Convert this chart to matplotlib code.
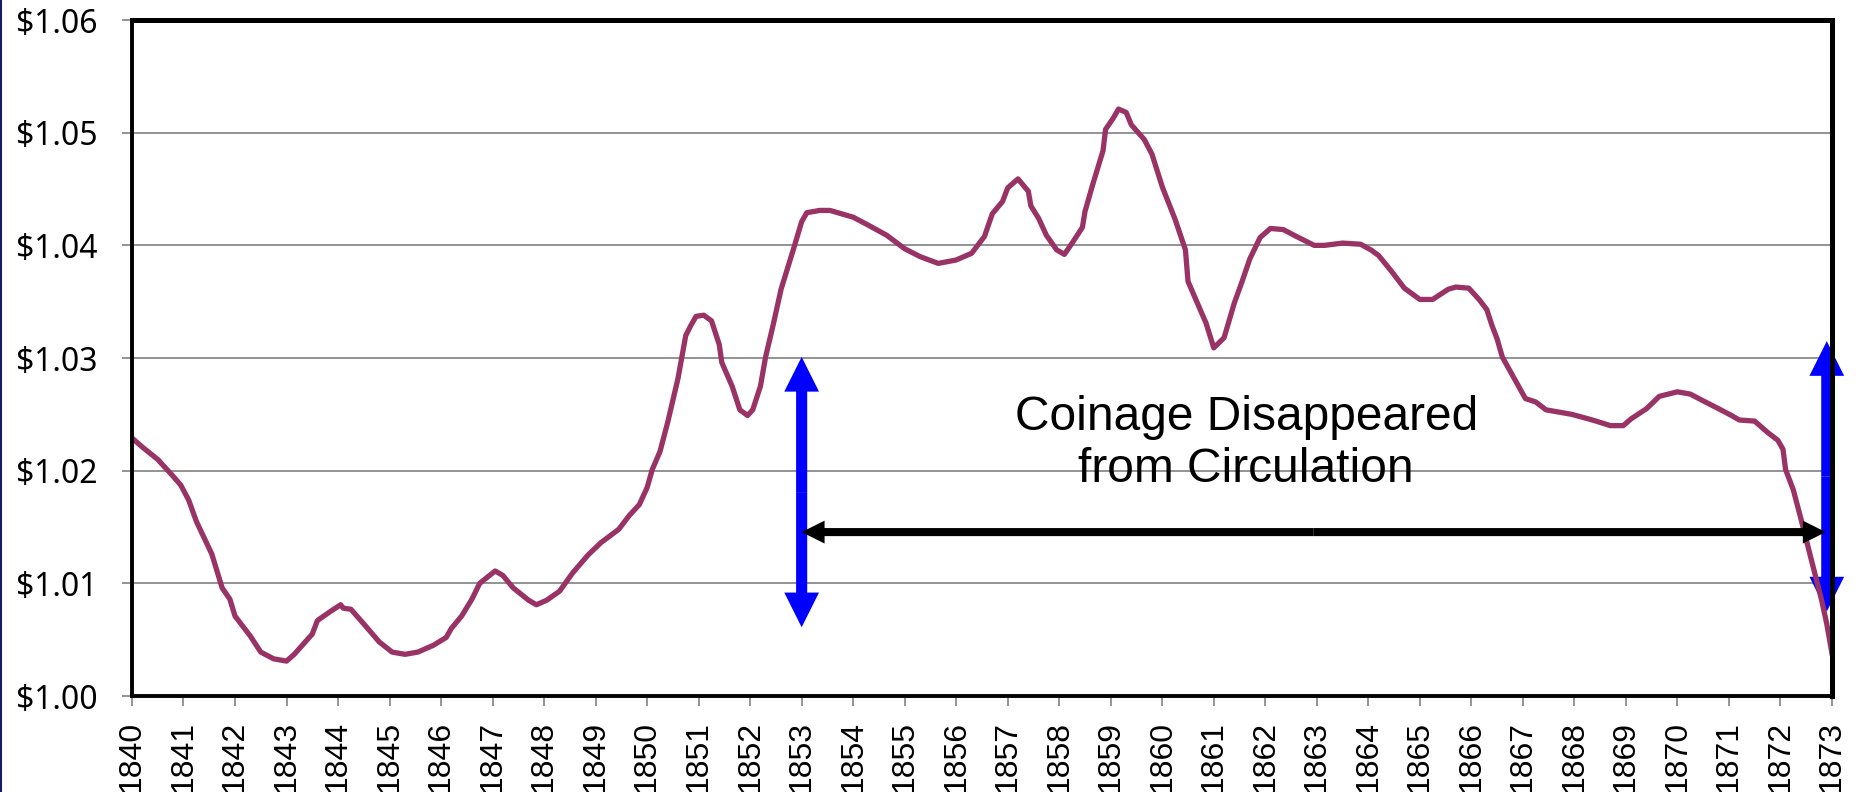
import matplotlib.pyplot as plt
from matplotlib.lines import Line2D

# values (year, dollars)
years = [1840.0, 1840.2, 1840.5, 1840.8, 1840.95, 1841.1, 1841.25, 1841.55, 1841.75, 1841.9,
         1842.0, 1842.3, 1842.5, 1842.75, 1843.0, 1843.15, 1843.5, 1843.6, 1843.85, 1844.05,
         1844.1, 1844.25, 1844.5, 1844.8, 1845.05, 1845.3, 1845.55, 1845.85, 1846.1, 1846.2,
         1846.4, 1846.6, 1846.75, 1847.05, 1847.2, 1847.4, 1847.7, 1847.85, 1848.05, 1848.3,
         1848.55, 1848.85, 1849.1, 1849.45, 1849.65, 1849.85, 1850.0, 1850.1, 1850.25, 1850.4,
         1850.6, 1850.75, 1850.85, 1850.95, 1851.1, 1851.25, 1851.4, 1851.45, 1851.65, 1851.8,
         1851.95, 1852.05, 1852.2, 1852.3, 1852.45, 1852.6, 1852.85, 1853.0, 1853.1, 1853.35,
         1853.55, 1854.0, 1854.25, 1854.65, 1855.0, 1855.3, 1855.65, 1856.0, 1856.3, 1856.55,
         1856.7, 1856.9, 1857.0, 1857.2, 1857.4, 1857.45, 1857.6, 1857.75, 1857.95, 1858.1,
         1858.25, 1858.45, 1858.5, 1858.65, 1858.85, 1858.9, 1859.05, 1859.15, 1859.3, 1859.4,
         1859.65, 1859.8, 1860.0, 1860.25, 1860.45, 1860.5, 1860.85, 1861.0, 1861.2, 1861.4,
         1861.55, 1861.7, 1861.9, 1862.1, 1862.35, 1862.6, 1862.95, 1863.15, 1863.5, 1863.85,
         1864.05, 1864.2, 1864.45, 1864.7, 1865.0, 1865.25, 1865.55, 1865.7, 1865.95, 1866.15,
         1866.3, 1866.4, 1866.5, 1866.6, 1867.05, 1867.25, 1867.45, 1867.95, 1868.35, 1868.7,
         1868.95, 1869.1, 1869.4, 1869.65, 1870.0, 1870.25, 1870.5, 1870.8, 1871.05, 1871.2,
         1871.5, 1871.75, 1871.95, 1872.05, 1872.1, 1872.25, 1872.4, 1872.6, 1872.8, 1872.9,
         1873.0]
value = [1.0229, 1.0221, 1.0210, 1.0195, 1.0187, 1.0174, 1.0155, 1.0126, 1.0096, 1.0086,
         1.0071, 1.0053, 1.0039, 1.0033, 1.0031, 1.0037, 1.0055, 1.0067, 1.0075, 1.0081,
         1.0078, 1.0077, 1.0064, 1.0048, 1.0039, 1.0037, 1.0039, 1.0045, 1.0052, 1.0060,
         1.0071, 1.0086, 1.0100, 1.0111, 1.0107, 1.0096, 1.0085, 1.0081, 1.0085, 1.0093,
         1.0109, 1.0125, 1.0136, 1.0148, 1.0160, 1.0170, 1.0185, 1.0201, 1.0217, 1.0243,
         1.0282, 1.0320, 1.0329, 1.0337, 1.0338, 1.0333, 1.0312, 1.0296, 1.0275, 1.0254,
         1.0249, 1.0254, 1.0275, 1.0301, 1.0330, 1.0361, 1.0398, 1.0421, 1.0429, 1.0431,
         1.0431, 1.0425, 1.0419, 1.0409, 1.0397, 1.0390, 1.0384, 1.0387, 1.0393, 1.0408,
         1.0428, 1.0439, 1.0451, 1.0459, 1.0448, 1.0435, 1.0424, 1.0409, 1.0396, 1.0392,
         1.0402, 1.0416, 1.0430, 1.0454, 1.0484, 1.0503, 1.0513, 1.0521, 1.0518, 1.0507,
         1.0494, 1.0481, 1.0452, 1.0423, 1.0396, 1.0368, 1.0331, 1.0309, 1.0318, 1.0349,
         1.0368, 1.0388, 1.0407, 1.0415, 1.0414, 1.0408, 1.0400, 1.0400, 1.0402, 1.0401,
         1.0396, 1.0391, 1.0377, 1.0362, 1.0352, 1.0352, 1.0361, 1.0363, 1.0362, 1.0352,
         1.0343, 1.0329, 1.0317, 1.0301, 1.0264, 1.0261, 1.0254, 1.0250, 1.0245, 1.0240,
         1.0240, 1.0246, 1.0255, 1.0266, 1.0270, 1.0268, 1.0262, 1.0255, 1.0249, 1.0245,
         1.0244, 1.0234, 1.0227, 1.0219, 1.0201, 1.0183, 1.0157, 1.0121, 1.0085, 1.0064,
         1.0038]

tick_years = list(range(1840, 1874))
y_ticks = [1.00, 1.01, 1.02, 1.03, 1.04, 1.05, 1.06]
y_labels = ['$1.00', '$1.01', '$1.02', '$1.03', '$1.04', '$1.05', '$1.06']

# annotation positions (data units)
span_start, span_end = 1853.0, 1872.88
span_y = 1.01455
left_bar = (1.0061, 1.0301)
right_bar = (1.0075, 1.0315)
note = 'Coinage Disappeared\nfrom Circulation'

fig = plt.figure(figsize=(18.64, 7.92), dpi=100)
ax = fig.add_axes([0.0708, 0.1212, 0.912, 0.8535])

ax.plot(years, value, color='#993366', lw=3.8, zorder=4, solid_joinstyle='round')

ax.set_xlim(1840, 1873)
ax.set_ylim(1.00, 1.06)
ax.set_xticks(tick_years)
ax.set_xticklabels([str(y) for y in tick_years], rotation=90, fontsize=23,
                   family='Liberation Sans', va='top')
ax.set_yticks(y_ticks)
ax.set_yticklabels(y_labels, fontsize=23, family='Noto Sans')
ax.tick_params(axis='x', direction='out', length=7, width=1.2, color='#808080', pad=11)
ax.tick_params(axis='y', direction='out', length=7, width=1.2, color='#808080', pad=18)
ax.grid(axis='y', color='#808080', lw=1.2, zorder=1)
ax.set_axisbelow(True)

for side in ['top', 'right']:
    ax.spines[side].set_linewidth(3.6)
for side in ['left', 'bottom']:
    ax.spines[side].set_linewidth(2.8)
for sp in ax.spines.values():
    sp.set_color('black')
    sp.set_zorder(6)


def arrow(x0, y0, x1, y1, color, hl, hw, tw, z):
    ax.annotate('', xy=(x1, y1), xytext=(x0, y0),
                arrowprops=dict(arrowstyle='simple,head_length=%g,head_width=%g,tail_width=%g' % (hl, hw, tw),
                                color=color, lw=0, shrinkA=0, shrinkB=0, mutation_scale=1),
                zorder=z, annotation_clip=False)


# blue vertical double arrows
for bx, (lo, hi) in [(1853.0, left_bar), (1872.9, right_bar)]:
    mid = (lo + hi) / 2
    arrow(bx, mid, bx, hi, 'blue', 25, 25, 8, 3)
    arrow(bx, mid, bx, lo, 'blue', 25, 25, 8, 3)

# black horizontal double arrow
mid_x = (span_start + span_end) / 2
arrow(mid_x, span_y, span_end, span_y, 'black', 16.5, 16.5, 5.8, 5)
arrow(mid_x, span_y, span_start, span_y, 'black', 16.5, 16.5, 5.8, 5)

ax.text(1861.63, 1.0224, note, fontsize=34.5, family='Liberation Sans',
        ha='center', va='center', linespacing=1.2, zorder=5)

# thin slide border on the left edge
fig.add_artist(Line2D([0.0006, 0.0006], [0, 1], color='#1a1a5e', lw=1.5, transform=fig.transFigure))

fig.savefig('out.png', dpi=100)
